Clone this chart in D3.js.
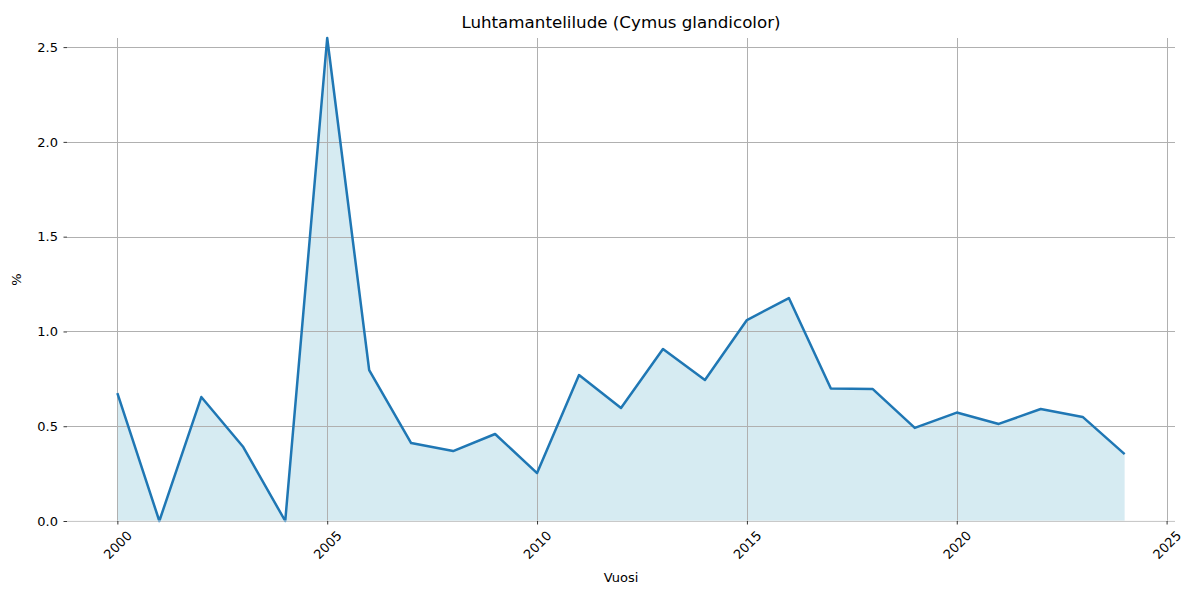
<!DOCTYPE html>
<html>
<head>
<meta charset="utf-8">
<script src="https://cdn.jsdelivr.net/npm/d3@7"></script>
<style>
	body { margin: 0; background: #fff; }
	svg text { font-family: "DejaVu Sans", sans-serif; fill: #000; }
</style>
</head>
<body>
<svg id="chart" width="1200" height="600"></svg>
<script>
// data
var years = [2000, 2001, 2002, 2003, 2004, 2005, 2006, 2007, 2008, 2009, 2010, 2011, 2012,
	2013, 2014, 2015, 2016, 2017, 2018, 2019, 2020, 2021, 2022, 2023, 2024];
var values = [0.675, 0.0, 0.654, 0.390, 0.0, 2.548, 0.796, 0.411, 0.369, 0.459, 0.253, 0.770, 0.596,
	0.907, 0.744, 1.060, 1.176, 0.699, 0.696, 0.491, 0.572, 0.512, 0.591, 0.549, 0.353];
var xTicks = [2000, 2005, 2010, 2015, 2020, 2025];
var yTicks = [0, 0.5, 1.0, 1.5, 2.0, 2.5];
var title = 'Luhtamantelilude (Cymus glandicolor)';

var margin = { top: 38, right: 25, bottom: 79, left: 67 },
	width = 1200 - margin.left - margin.right,
	height = 600 - margin.top - margin.bottom;

var data = years.map(function (d, i) { return { year: d, value: values[i] }; });

var x = d3.scaleLinear().domain([1998.8, 2025.2]).range([0, width]);
var y = d3.scaleLinear().domain([0, d3.max(values)]).range([height, 0]);

var svg = d3.select('#chart').append('g')
	.attr('transform', 'translate(' + margin.left + ',' + margin.top + ')');

// area first, grid drawn over it, line on top
var area = d3.area()
	.x(d => x(d.year))
	.y0(y(0))
	.y1(d => y(d.value));
svg.append('path').datum(data)
	.attr('d', area)
	.attr('fill', '#add8e6')
	.attr('fill-opacity', 0.5);

// grid
svg.append('g').selectAll('line.gx').data(xTicks).enter().append('line')
	.attr('x1', d => Math.round(x(d)) + 0.5).attr('x2', d => Math.round(x(d)) + 0.5)
	.attr('y1', 0).attr('y2', height)
	.attr('stroke', '#b0b0b0').attr('stroke-width', 1);
svg.append('g').selectAll('line.gy').data(yTicks).enter().append('line')
	.attr('x1', 0).attr('x2', width)
	.attr('y1', d => Math.round(y(d)) + 0.5).attr('y2', d => Math.round(y(d)) + 0.5)
	.attr('stroke', '#b0b0b0').attr('stroke-width', 1);

var line = d3.line()
	.x(d => x(d.year))
	.y(d => y(d.value));
svg.append('path').datum(data)
	.attr('d', line)
	.attr('fill', 'none')
	.attr('stroke', '#1f77b4')
	.attr('stroke-width', 2.5)
	.attr('stroke-linejoin', 'round');

// faint bottom spine
svg.append('line')
	.attr('x1', 0).attr('x2', width)
	.attr('y1', height).attr('y2', height)
	.attr('stroke', '#f0f0f0').attr('stroke-width', 0.8);

// X axis
var xAxis = d3.axisBottom(x).tickValues(xTicks).tickSize(3.5).tickFormat(d3.format('d'));
var gx = svg.append('g')
	.attr('transform', 'translate(0,' + height + ')')
	.call(xAxis);
gx.select('.domain').remove();
gx.selectAll('.tick line').attr('stroke', '#000').attr('stroke-width', 0.8);
gx.selectAll('.tick text')
	.attr('font-size', 13)
	.attr('y', 0).attr('dy', null)
	.attr('text-anchor', 'middle')
	.attr('dominant-baseline', 'central')
	.attr('transform', 'translate(0,24) rotate(-45)');

// Y axis
var yAxis = d3.axisLeft(y).tickValues(yTicks).tickSize(3.5).tickFormat(d3.format('.1f'));
var gy = svg.append('g').call(yAxis);
gy.select('.domain').remove();
gy.selectAll('.tick line').attr('stroke', '#000').attr('stroke-width', 0.8);
gy.selectAll('.tick text').attr('font-size', 13).attr('x', -9);

// labels
svg.append('text')
	.attr('x', width / 2).attr('y', -10)
	.attr('text-anchor', 'middle')
	.attr('font-size', 16.7)
	.text(title);
svg.append('text')
	.attr('x', width / 2).attr('y', height + 61)
	.attr('text-anchor', 'middle')
	.attr('font-size', 13)
	.text('Vuosi');
svg.append('text')
	.attr('transform', 'translate(' + (-46) + ',' + (height / 2) + ') rotate(-90)')
	.attr('text-anchor', 'middle')
	.attr('font-size', 13)
	.text('%');
</script>
</body>
</html>
